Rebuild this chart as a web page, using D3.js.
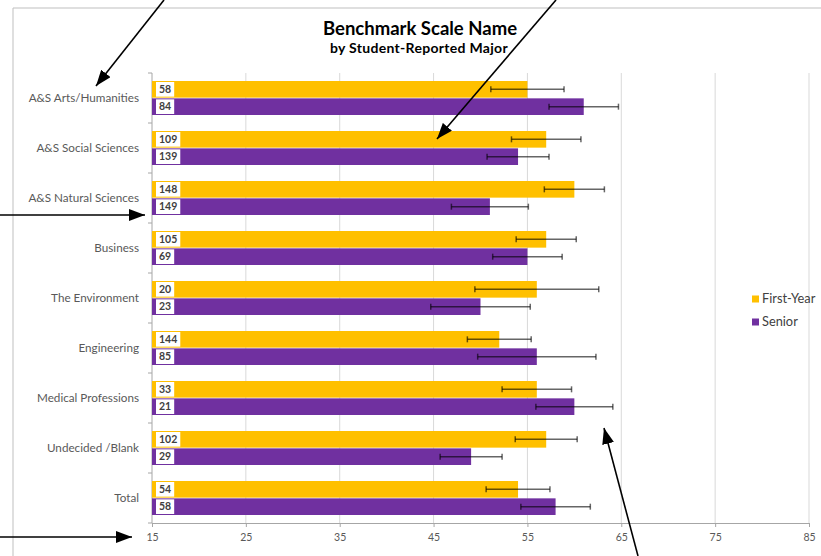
<!DOCTYPE html>
<html>
<head>
<meta charset="utf-8">
<script src="https://cdn.jsdelivr.net/npm/d3@7"></script>
<style>
  body { margin: 0; background: #fff; }
  svg { display: block; font-family: Lato, "Open Sans", sans-serif; }
</style>
</head>
<body>
<svg id="chart" width="821" height="556"></svg>
<script>
// data
var majors = ["A&S Arts/Humanities", "A&S Social Sciences", "A&S Natural Sciences", "Business",
              "The Environment", "Engineering", "Medical Professions", "Undecided /Blank", "Total"];
var seriesNames = ["First-Year", "Senior"];
var firstYearMean = [55, 57, 60, 57, 56, 52, 56, 57, 54];
var firstYearErr  = [3.9, 3.7, 3.2, 3.2, 6.6, 3.4, 3.7, 3.3, 3.4];
var firstYearN    = [58, 109, 148, 105, 20, 144, 33, 102, 54];
var seniorMean    = [61, 54, 51, 55, 50, 56, 60, 49, 58];
var seniorErr     = [3.7, 3.3, 4.1, 3.7, 5.3, 6.3, 4.1, 3.3, 3.7];
var seniorN       = [84, 139, 149, 69, 23, 85, 21, 29, 58];
var xTicks = [15, 25, 35, 45, 55, 65, 75, 85];
var colors = ["#FFC000", "#7030A0"];

// annotation arrows drawn over the chart picture
var arrows = [
  [[164, 0], [96, 86]],
  [[556, 0], [437, 139]],
  [[0, 215], [145, 215]],
  [[0, 537], [132, 537]],
  [[638, 556], [604, 428]]
];

var svg = d3.select("#chart");

var margin = {left: 152, right: 12, top: 73, bottom: 33};
var W = 821, H = 556;

// chart frame
svg.append("path")
   .attr("d", "M13," + H + "V8H" + W)
   .attr("fill", "none")
   .attr("stroke", "#bfbfbf")
   .attr("stroke-width", 1);

var x = d3.scaleLinear().domain([15, 85]).range([margin.left, 809]);
var y = d3.scaleBand().domain(majors).range([margin.top, 523]).paddingInner(0.32).paddingOuter(0.16);
var ySub = d3.scaleBand().domain(seriesNames).range([0, y.bandwidth()]).paddingInner(0.04);

// title
svg.append("text")
   .attr("x", 420).attr("y", 35)
   .attr("text-anchor", "middle")
   .style("font-size", "18.5px").style("font-weight", "bold").style("fill", "#000")
   .text("Benchmark Scale Name");
svg.append("text")
   .attr("x", 419).attr("y", 53)
   .attr("text-anchor", "middle")
   .style("font-size", "14px").style("font-weight", "bold").style("fill", "#000")
   .style("letter-spacing", "0.3px")
   .text("by Student-Reported Major");

// grid
svg.append("g").selectAll("line")
   .data(xTicks.slice(1))
   .enter().append("line")
   .attr("x1", function(d) { return x(d); })
   .attr("x2", function(d) { return x(d); })
   .attr("y1", margin.top).attr("y2", 523)
   .attr("stroke", "#d9d9d9").attr("stroke-width", 1);

// x axis
var xAxis = svg.append("g")
   .attr("transform", "translate(0,523)")
   .call(d3.axisBottom(x).tickValues(xTicks).tickSize(4).tickPadding(7));
xAxis.select(".domain").attr("stroke", "#a6a6a6");
xAxis.selectAll(".tick line").attr("stroke", "#a6a6a6");
xAxis.selectAll("text").style("font-family", "Lato, sans-serif").style("font-size", "10.5px").style("fill", "#595959");

// y axis with ticks on band boundaries
var step = y.step();
var bounds = majors.map(function(m) { return y(m) - step * y.paddingInner() / 2; });
bounds.push(523);
svg.append("line")
   .attr("x1", margin.left).attr("x2", margin.left)
   .attr("y1", margin.top).attr("y2", 523)
   .attr("stroke", "#a6a6a6");
svg.append("g").selectAll("line")
   .data(bounds)
   .enter().append("line")
   .attr("x1", margin.left - 4).attr("x2", margin.left)
   .attr("y1", function(d) { return d; }).attr("y2", function(d) { return d; })
   .attr("stroke", "#a6a6a6");

svg.append("g").selectAll("text")
   .data(majors)
   .enter().append("text")
   .attr("x", 139)
   .attr("y", function(d) { return y(d) + y.bandwidth() / 2; })
   .attr("dy", "0.35em")
   .attr("text-anchor", "end")
   .style("font-size", "11.7px").style("fill", "#595959")
   .text(function(d) { return d; });

// rows
var rows = [];
majors.forEach(function(m, i) {
    rows.push({cat: m, s: 0, v: firstYearMean[i], e: firstYearErr[i], n: firstYearN[i]});
    rows.push({cat: m, s: 1, v: seniorMean[i], e: seniorErr[i], n: seniorN[i]});
});

var bar = svg.append("g").selectAll("g")
   .data(rows)
   .enter().append("g")
   .attr("transform", function(d) { return "translate(0," + (y(d.cat) + ySub(seriesNames[d.s])) + ")"; });

var bh = ySub.bandwidth();

bar.append("rect")
   .attr("x", x(15))
   .attr("width", function(d) { return x(d.v) - x(15); })
   .attr("height", bh)
   .attr("fill", function(d) { return colors[d.s]; });

// count labels in white boxes
var lab = bar.append("g");
lab.append("rect")
   .attr("class", "lbox")
   .attr("x", x(15) + 4)
   .attr("y", 1)
   .attr("height", bh - 2)
   .attr("fill", "#fff");
lab.append("text")
   .attr("x", x(15) + 7)
   .attr("y", bh / 2)
   .attr("dy", "0.36em")
   .style("font-size", "10.5px").style("font-weight", "bold").style("fill", "#404040")
   .text(function(d) { return d.n; });
lab.each(function() {
    var t = d3.select(this).select("text").node().getComputedTextLength();
    d3.select(this).select("rect").attr("width", t + 6);
});

// error bars
var eb = bar.append("g")
   .attr("stroke", "#000").attr("stroke-opacity", 0.6).attr("stroke-width", 1.5);
eb.append("line")
   .attr("x1", function(d) { return x(d.v - d.e); })
   .attr("x2", function(d) { return x(d.v + d.e); })
   .attr("y1", bh / 2).attr("y2", bh / 2);
eb.append("line")
   .attr("x1", function(d) { return x(d.v - d.e); })
   .attr("x2", function(d) { return x(d.v - d.e); })
   .attr("y1", bh / 2 - 3).attr("y2", bh / 2 + 3);
eb.append("line")
   .attr("x1", function(d) { return x(d.v + d.e); })
   .attr("x2", function(d) { return x(d.v + d.e); })
   .attr("y1", bh / 2 - 3).attr("y2", bh / 2 + 3);

// legend
var leg = svg.append("g").selectAll("g")
   .data(seriesNames)
   .enter().append("g")
   .attr("transform", function(d, i) { return "translate(752," + (299 + i * 23) + ")"; });
leg.append("rect")
   .attr("x", 0).attr("y", -3.5).attr("width", 7).attr("height", 7)
   .attr("fill", function(d, i) { return colors[i]; });
leg.append("text")
   .attr("x", 10).attr("dy", "0.35em")
   .style("font-size", "12.8px").style("fill", "#404040")
   .text(function(d) { return d; });

// arrows
var defs = svg.append("defs");
defs.append("marker")
   .attr("id", "head")
   .attr("viewBox", "0 0 16 12")
   .attr("refX", 16).attr("refY", 6)
   .attr("markerUnits", "userSpaceOnUse")
   .attr("markerWidth", 16).attr("markerHeight", 12)
   .attr("orient", "auto")
   .append("path").attr("d", "M0,0L16,6L0,12Z").attr("fill", "#000");

svg.append("g").selectAll("line")
   .data(arrows)
   .enter().append("line")
   .attr("x1", function(d) { return d[0][0]; }).attr("y1", function(d) { return d[0][1]; })
   .attr("x2", function(d) { return d[1][0]; }).attr("y2", function(d) { return d[1][1]; })
   .attr("stroke", "#000").attr("stroke-width", 1.6)
   .attr("marker-end", "url(#head)");
</script>
</body>
</html>
